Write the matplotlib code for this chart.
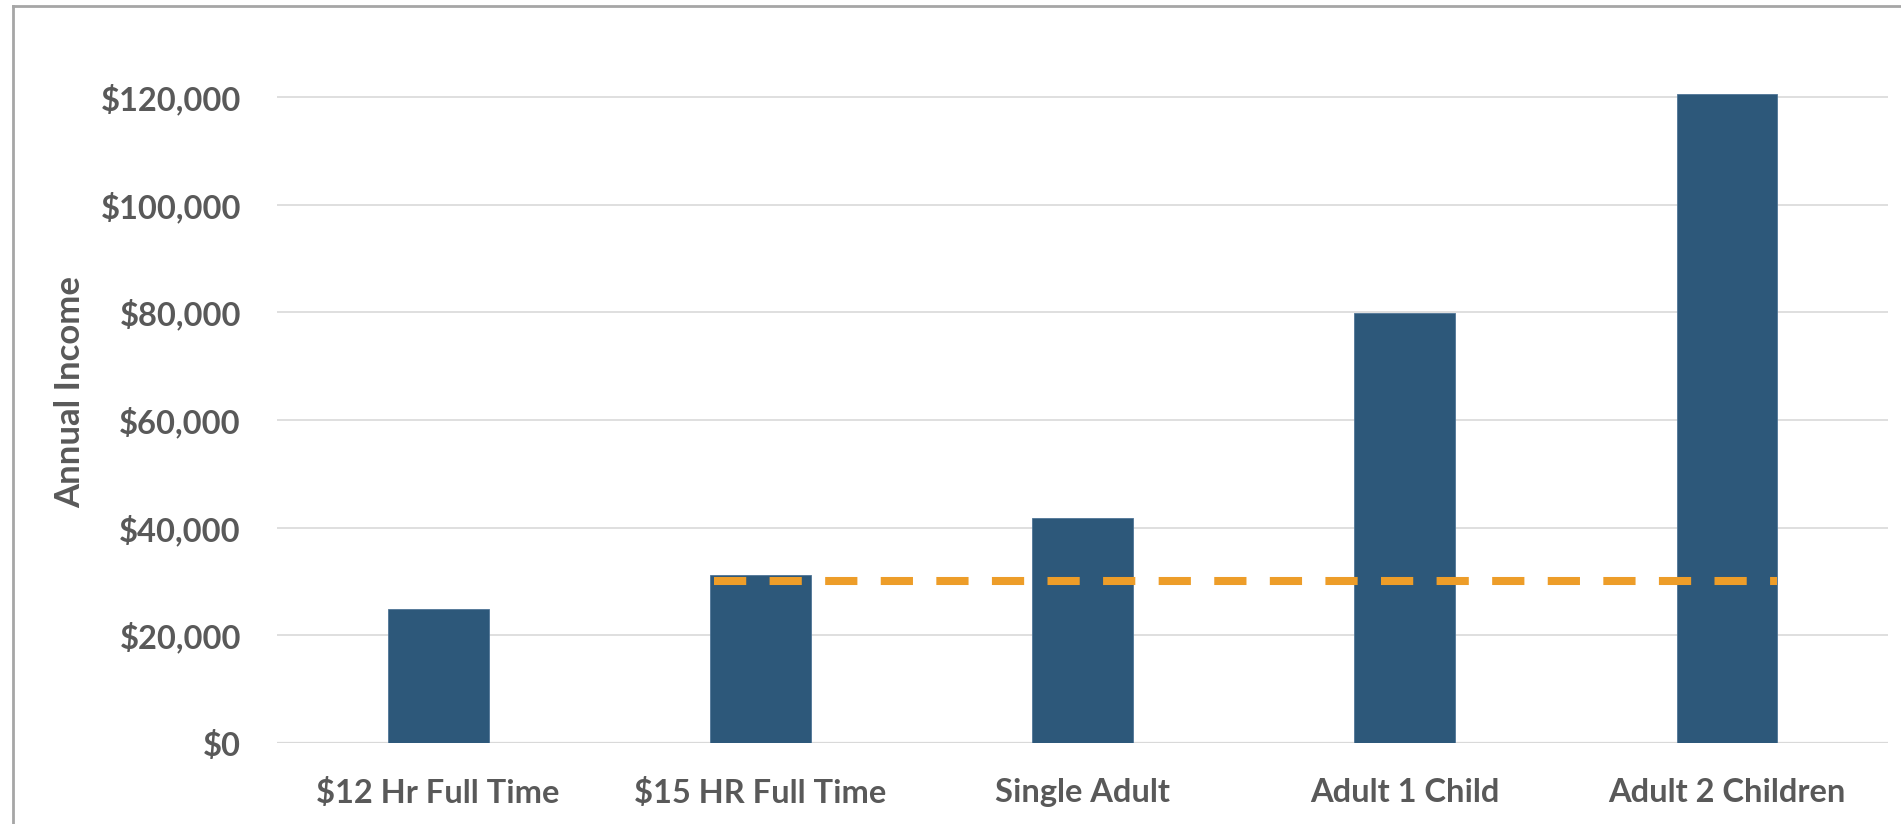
import matplotlib
matplotlib.use("Agg")
import matplotlib.pyplot as plt
from matplotlib.lines import Line2D
from matplotlib.ticker import FuncFormatter

categories = ["$12 Hr Full Time", "$15 HR Full Time", "Single Adult",
              "Adult 1 Child", "Adult 2 Children"]
incomes = [24960, 31200, 41700, 79900, 120600]
threshold = 30000
yticks = [0, 20000, 40000, 60000, 80000, 100000, 120000]

bar_color = "#2D587A"
line_color = "#ED9D29"
text_color = "#595959"
grid_color = "#D9D9D9"

plt.rcParams["font.family"] = ["Lato", "DejaVu Sans"]

fig = plt.figure(figsize=(19.01, 8.24), dpi=100)
ax = fig.add_axes([0.1457, 0.0983, 0.8475, 0.8495])

x = list(range(len(categories)))
ax.bar(x, incomes, width=0.313, color=bar_color, edgecolor="#4F7596",
       linewidth=0.6, zorder=3)

# threshold line spanning from the second bar to the last one
ax.plot([0.856, 4.155], [threshold, threshold], color=line_color,
        linewidth=5.8, dashes=(4.0, 2.9), solid_capstyle="butt", zorder=4)

ax.set_xlim(-0.5, len(categories) - 0.5)
ax.set_ylim(0, 130000)
ax.set_yticks(yticks)
ax.yaxis.set_major_formatter(FuncFormatter(lambda v, p: f"${v:,.0f}"))
ax.set_xticks(x)
ax.set_xticklabels(categories)

for v in yticks[1:]:
    ax.axhline(v, color=grid_color, linewidth=1.2, zorder=1)
ax.axhline(0, color=grid_color, linewidth=1.6, zorder=2)

for s in ax.spines.values():
    s.set_visible(False)
ax.tick_params(axis="both", length=0, colors=text_color, labelsize=23.5)
ax.tick_params(axis="y", pad=26)
ax.tick_params(axis="x", pad=25)
for lbl in ax.get_xticklabels() + ax.get_yticklabels():
    lbl.set_fontweight("bold")

fig.text(70 / 1901, (824 - 392) / 824, "Annual Income", rotation=90,
         ha="center", va="center", fontsize=25, fontweight="bold",
         color=text_color)

# chart border (only the top and left edges are in view)
fig.add_artist(Line2D([13 / 1901, 13 / 1901], [0, 1 - 6 / 824],
                      color="#A6A6A6", linewidth=2, transform=fig.transFigure))
fig.add_artist(Line2D([13 / 1901, 1], [1 - 6 / 824, 1 - 6 / 824],
                      color="#A6A6A6", linewidth=2, transform=fig.transFigure))

fig.savefig("out.png", dpi=100)
